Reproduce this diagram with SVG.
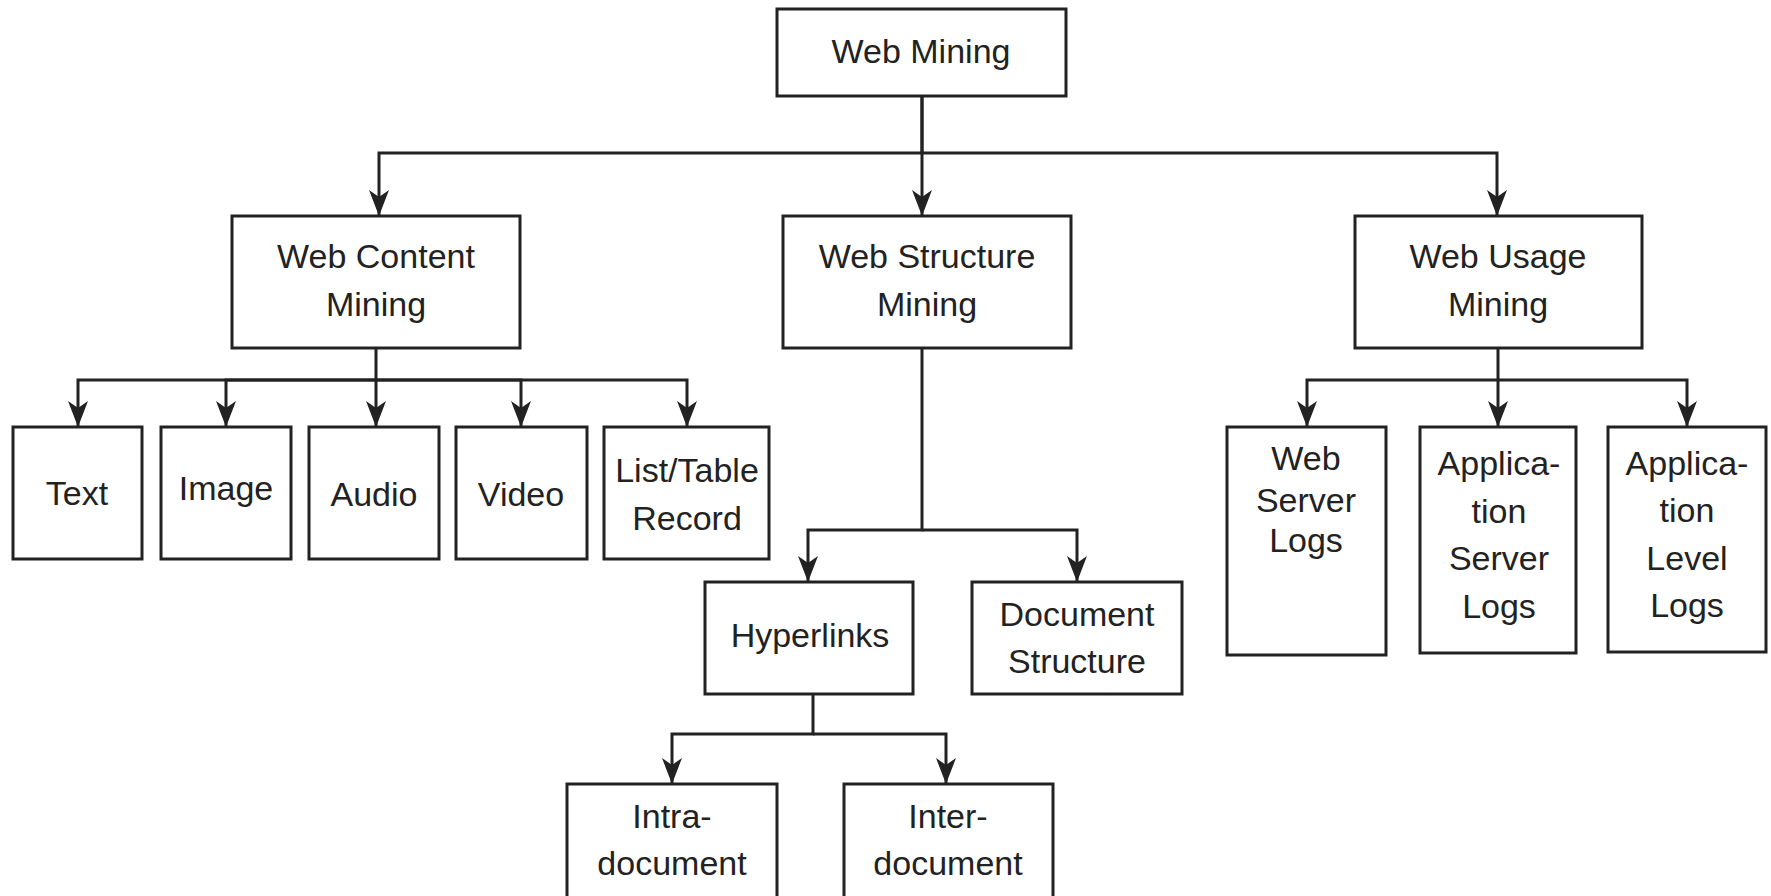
<svg xmlns="http://www.w3.org/2000/svg" width="1771" height="896" viewBox="0 0 1771 896">
<style>
  .box{fill:#fff;stroke:#222;stroke-width:3}
  .lbl{font-family:"Liberation Sans",Arial,sans-serif;font-size:34px;fill:#222;text-anchor:middle}
  .edge{fill:none;stroke:#222;stroke-width:3;marker-end:url(#arr)}
</style>
<defs>
  <marker id="arr" viewBox="0 0 26 20" refX="26" refY="10" markerWidth="26" markerHeight="20" markerUnits="userSpaceOnUse" orient="auto">
    <path d="M0,0 L26,10 L0,20 L7,10 z" fill="#222"/>
  </marker>
</defs>
<rect width="1771" height="896" fill="#fff"/>
<g id="connectors">
  <path class="edge" d="M922,96 V153 H379 V216"/>
  <path class="edge" d="M922,96 V216"/>
  <path class="edge" d="M922,153 H1497 V216"/>
  <path class="edge" d="M376,348 V380 H78 V427"/>
  <path class="edge" d="M376,380 H226 V427"/>
  <path class="edge" d="M376,380 V427"/>
  <path class="edge" d="M376,380 H521 V427"/>
  <path class="edge" d="M376,380 H687 V427"/>
  <path class="edge" d="M922,348 V530 H808 V582"/>
  <path class="edge" d="M922,530 H1077 V582"/>
  <path class="edge" d="M813,694 V734 H672 V784"/>
  <path class="edge" d="M813,734 H946 V784"/>
  <path class="edge" d="M1498,348 V380 H1307 V427"/>
  <path class="edge" d="M1498,380 V427"/>
  <path class="edge" d="M1498,380 H1687 V427"/>
</g>
<g id="web-mining"><rect class="box" x="777" y="9" width="289" height="87"/><text class="lbl" x="921" y="63">Web Mining</text></g>
<g id="web-content-mining"><rect class="box" x="232" y="216" width="288" height="132"/><text class="lbl" x="376" y="268">Web Content</text><text class="lbl" x="376" y="316">Mining</text></g>
<g id="web-structure-mining"><rect class="box" x="783" y="216" width="288" height="132"/><text class="lbl" x="927" y="268">Web Structure</text><text class="lbl" x="927" y="316">Mining</text></g>
<g id="web-usage-mining"><rect class="box" x="1355" y="216" width="287" height="132"/><text class="lbl" x="1498" y="268">Web Usage</text><text class="lbl" x="1498" y="316">Mining</text></g>
<g id="text"><rect class="box" x="13" y="427" width="129" height="132"/><text class="lbl" x="77" y="505">Text</text></g>
<g id="image"><rect class="box" x="161" y="427" width="130" height="132"/><text class="lbl" x="226" y="500">Image</text></g>
<g id="audio"><rect class="box" x="309" y="427" width="130" height="132"/><text class="lbl" x="374" y="506">Audio</text></g>
<g id="video"><rect class="box" x="456" y="427" width="131" height="132"/><text class="lbl" x="521" y="506">Video</text></g>
<g id="list-table-record"><rect class="box" x="604" y="427" width="165" height="132"/><text class="lbl" x="687" y="482">List/Table</text><text class="lbl" x="687" y="530">Record</text></g>
<g id="hyperlinks"><rect class="box" x="705" y="582" width="208" height="112"/><text class="lbl" x="810" y="647">Hyperlinks</text></g>
<g id="document-structure"><rect class="box" x="972" y="582" width="210" height="112"/><text class="lbl" x="1077" y="626">Document</text><text class="lbl" x="1077" y="673">Structure</text></g>
<g id="intra-document"><rect class="box" x="567" y="784" width="210" height="130"/><text class="lbl" x="672" y="828">Intra-</text><text class="lbl" x="672" y="875">document</text></g>
<g id="inter-document"><rect class="box" x="844" y="784" width="209" height="130"/><text class="lbl" x="948" y="828">Inter-</text><text class="lbl" x="948" y="875">document</text></g>
<g id="web-server-logs"><rect class="box" x="1227" y="427" width="159" height="228"/><text class="lbl" x="1306" y="470">Web</text><text class="lbl" x="1306" y="512">Server</text><text class="lbl" x="1306" y="552">Logs</text></g>
<g id="application-server-logs"><rect class="box" x="1420" y="427" width="156" height="226"/><text class="lbl" x="1499" y="475">Applica-</text><text class="lbl" x="1499" y="523">tion</text><text class="lbl" x="1499" y="570">Server</text><text class="lbl" x="1499" y="618">Logs</text></g>
<g id="application-level-logs"><rect class="box" x="1608" y="427" width="158" height="225"/><text class="lbl" x="1687" y="475">Applica-</text><text class="lbl" x="1687" y="522">tion</text><text class="lbl" x="1687" y="570">Level</text><text class="lbl" x="1687" y="617">Logs</text></g>
</svg>
